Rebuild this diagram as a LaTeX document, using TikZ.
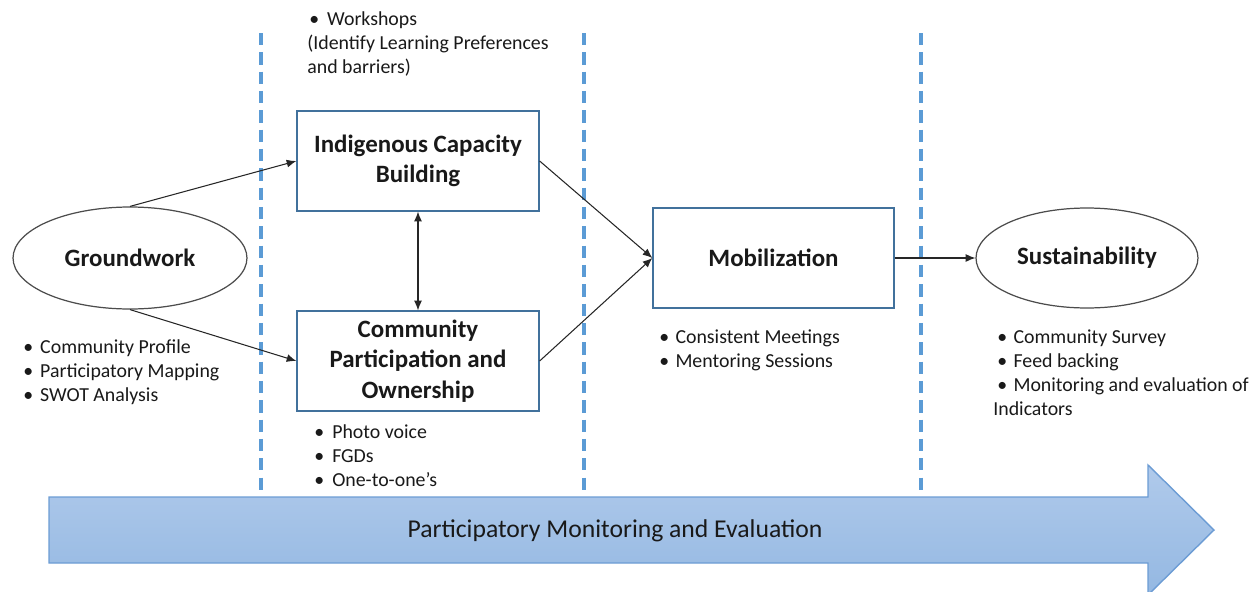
\documentclass[tikz,border=0pt]{standalone}
\usepackage{fontspec}
\setmainfont{Carlito}
\usetikzlibrary{arrows.meta,shapes.geometric}
\definecolor{dashblue}{RGB}{91,155,213}
\definecolor{boxblue}{RGB}{65,113,156}
\definecolor{arrfillA}{RGB}{176,202,235}
\definecolor{arrfillB}{RGB}{148,184,226}
\definecolor{arrline}{RGB}{108,156,212}
\newcommand\bitem[2][9.6pt]{\makebox[#1][l]{•}#2}
\begin{document}
\begin{tikzpicture}[x=0.02cm,y=-0.02cm,
  lbl/.style={font=\fontsize{14.2}{17.3}\selectfont\bfseries, align=center, text=black!90},
  rbox/.style={lbl, draw=boxblue, line width=0.75pt, minimum width=4.84cm, minimum height=2cm, inner sep=0},
  oval/.style={lbl, ellipse, draw=black!70, line width=0.7pt, inner sep=0},
  conn/.style={-{Latex[length=5.5pt,width=4.5pt]}, line width=0.6pt, draw=black!85},
  blist/.style={anchor=base west, inner sep=0, font=\fontsize{11.3}{13.8}\selectfont, text=black!90},
  dashline/.style={draw=dashblue, line width=2pt, dash pattern=on 7pt off 4pt}]
\useasboundingbox (0,0) rectangle (1249,592);
\clip (0,0) rectangle (1249,592);

% dashed separators
\coordinate (d1t) at (261,33); \coordinate (d1b) at (261,490);
\coordinate (d2t) at (584,33); \coordinate (d2b) at (584,490);
\coordinate (d3t) at (921,33); \coordinate (d3b) at (921,497);
\draw[dashline] (d1t) -- (d1b);
\draw[dashline] (d2t) -- (d2b);
\draw[dashline] (d3t) -- (d3b);

% big arrow
\path[top color=arrfillA, bottom color=arrfillB, draw=arrline, line width=0.8pt]
  (49,497) -- (1148,497) -- (1148,465) -- (1214,530) -- (1148,595) -- (1148,563) -- (49,563) -- cycle;
\node[font=\fontsize{14.6}{17}\selectfont, text=black!90] (pme) at (615,531) {Participatory Monitoring and Evaluation};

% main nodes
\node[oval, minimum width=4.68cm, minimum height=2.04cm] (gw) at (130,258) {Groundwork};
\node[rbox] (icb) at (418,161) {Indigenous Capacity\\Building};
\node[rbox] (cpo) at (418,361) {Community\\Participation and\\Ownership};
\node[rbox, minimum width=4.82cm] (mob) at (773.5,258) {Mobilization};
\node[oval, minimum width=4.44cm, minimum height=2cm] (sus) at (1087,258) {Sustainability};

% connectors
\draw[conn] (gw.north) -- (icb.west);
\draw[conn] (gw.south) -- (cpo.west);
\draw[conn, {Latex[length=5.5pt,width=4.5pt]}-{Latex[length=5.5pt,width=4.5pt]}] (icb.south) -- (cpo.north);
\draw[conn] (icb.east) -- (mob.west);
\draw[conn] (cpo.east) -- (mob.west);
\draw[conn] (mob.east) -- (sus.west);

% text lists
\node[blist] (ws) at (307,25) {\begin{tabular}[t]{@{}l@{}}\hspace{1.1pt}\bitem[10.2pt]{Workshops}\\(Identify Learning Preferences\\and barriers)\end{tabular}};
\node[blist] (gwl) at (23,353) {\begin{tabular}[t]{@{}l@{}}\bitem{Community Profile}\\\bitem{Participatory Mapping}\\\bitem{SWOT Analysis}\end{tabular}};
\node[blist] (cpol) at (314,438) {\begin{tabular}[t]{@{}l@{}}\bitem[10.2pt]{Photo voice}\\\bitem[10.2pt]{FGDs}\\\bitem[10.2pt]{One-to-one’s}\end{tabular}};
\node[blist] (mobl) at (659,343) {\begin{tabular}[t]{@{}l@{}}\bitem[9.2pt]{Consistent Meetings}\\\bitem[9.2pt]{Mentoring Sessions}\end{tabular}};
\node[blist] (susl) at (993,343) {\begin{tabular}[t]{@{}l@{}}\hspace{2.3pt}\bitem[9.2pt]{Community Survey}\\\hspace{2.3pt}\bitem[9.2pt]{Feed backing}\\\hspace{2.3pt}\bitem[9.2pt]{Monitoring and evaluation of}\\Indicators\end{tabular}};
\end{tikzpicture}
\end{document}
